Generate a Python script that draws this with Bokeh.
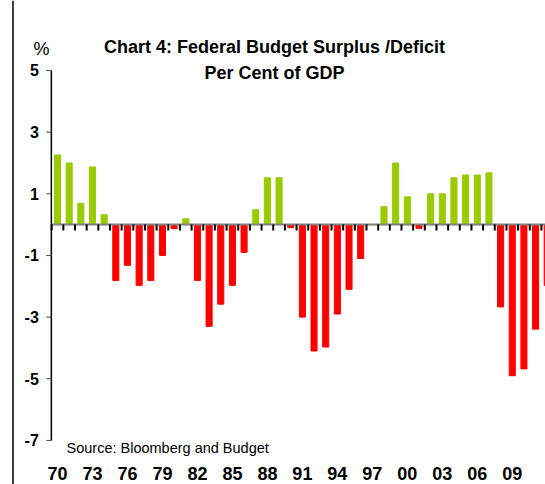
from bokeh.plotting import figure
from bokeh.models import Range1d, Span, Label
from bokeh.core.properties import value
from bokeh.embed import file_html
from bokeh.resources import INLINE

years = list(range(1970, 2013))
values = [2.26, 2.0, 0.69, 1.87, 0.32, -1.81, -1.32, -1.97, -1.81, -1.0,
          -0.13, 0.19, -1.81, -3.3, -2.58, -1.97, -0.9, 0.48, 1.52, 1.52,
          -0.1, -3.0, -4.1, -3.97, -2.9, -2.1, -1.1, 0.0, 0.58, 2.0,
          0.9, -0.12, 1.0, 1.0, 1.52, 1.61, 1.61, 1.68, -2.67, -4.9,
          -4.68, -3.39, -1.97]
x_tick_years = list(range(1970, 2010, 3))
x_tick_labels = [str(y)[2:] for y in x_tick_years]
y_ticks = [-7, -5, -3, -1, 1, 3, 5]
y_tick_labels = [str(t) for t in y_ticks]
title_lines = ["Chart 4: Federal Budget Surplus /Deficit", "Per Cent of GDP"]
unit_label = "%"
source_text = "Source: Bloomberg and Budget"

GREEN = "#99CC00"
RED = "#FF0000"
colors = [GREEN if v >= 0 else RED for v in values]

X0, X1 = 1965.11, 2011.85
Y0, Y1 = -8.43, 7.27
AXIS_X = 1969.47          # where the value axis stands (left of first bar)
px_x = (X1 - X0) / 545.0  # data units per pixel
px_y = (Y1 - Y0) / 484.0

p = figure(width=545, height=484, output_backend="svg", toolbar_location=None,
           x_range=Range1d(X0, X1), y_range=Range1d(Y0, Y1),
           x_axis_type=None, y_axis_type=None,
           min_border_left=0, min_border_right=0, min_border_top=0,
           min_border_bottom=0)
p.outline_line_color = None
p.background_fill_color = "white"
p.border_fill_color = "white"

# outer frame line at left
p.add_layout(Span(location=X0 + 12.5 * px_x, dimension="height",
                  line_color="black", line_width=1.5))

# bars
p.vbar(x=years, top=values, bottom=0, width=0.52, color=colors)

# zero line with ticks between bars
p.segment(x0=[AXIS_X], x1=[X1], y0=[0], y1=[0], line_color="#808080", line_width=2)
bounds = [y - 0.5 for y in years] + [years[-1] + 0.5]
p.segment(x0=bounds, x1=bounds, y0=[0] * len(bounds), y1=[-6 * px_y] * len(bounds),
          line_color="black", line_width=2)

# value axis
p.segment(x0=[AXIS_X], x1=[AXIS_X], y0=[min(y_ticks)], y1=[max(y_ticks)],
          line_color="black", line_width=1.5)
p.segment(x0=[AXIS_X - 5 * px_x] * len(y_ticks), x1=[AXIS_X] * len(y_ticks),
          y0=y_ticks, y1=y_ticks, line_color="#444444", line_width=1)
p.text(x=[AXIS_X - 12.5 * px_x] * len(y_ticks), y=y_ticks, text=y_tick_labels,
       text_align="right", text_baseline="middle",
       text_font=value("Liberation Sans"), text_font_style="bold",
       text_font_size="16px", text_color="black")

# category labels
p.text(x=x_tick_years, y=[-8.07] * len(x_tick_years), text=x_tick_labels,
       text_align="center", text_baseline="alphabetic",
       text_font=value("Liberation Sans"), text_font_style="bold",
       text_font_size="18px", text_color="black")

# titles and notes
p.add_layout(Label(x=1988.61, y=5.748, text=title_lines[0], text_align="center",
                   text_baseline="alphabetic", text_font="Liberation Sans",
                   text_font_style="bold", text_font_size="18px", text_color="black"))
p.add_layout(Label(x=1988.61, y=4.904, text=title_lines[1], text_align="center",
                   text_baseline="alphabetic", text_font="Liberation Sans",
                   text_font_style="bold", text_font_size="18px", text_color="black"))
p.add_layout(Label(x=1968.63, y=5.683, text=unit_label, text_align="center",
                   text_baseline="alphabetic", text_font="Liberation Sans",
                   text_font_size="18px", text_color="black"))
p.add_layout(Label(x=1970.77, y=-7.23, text=source_text, text_align="left",
                   text_baseline="alphabetic", text_font="Liberation Sans",
                   text_font_size="14.5px", text_color="black"))

open("out.html", "w").write(file_html(p, INLINE))
